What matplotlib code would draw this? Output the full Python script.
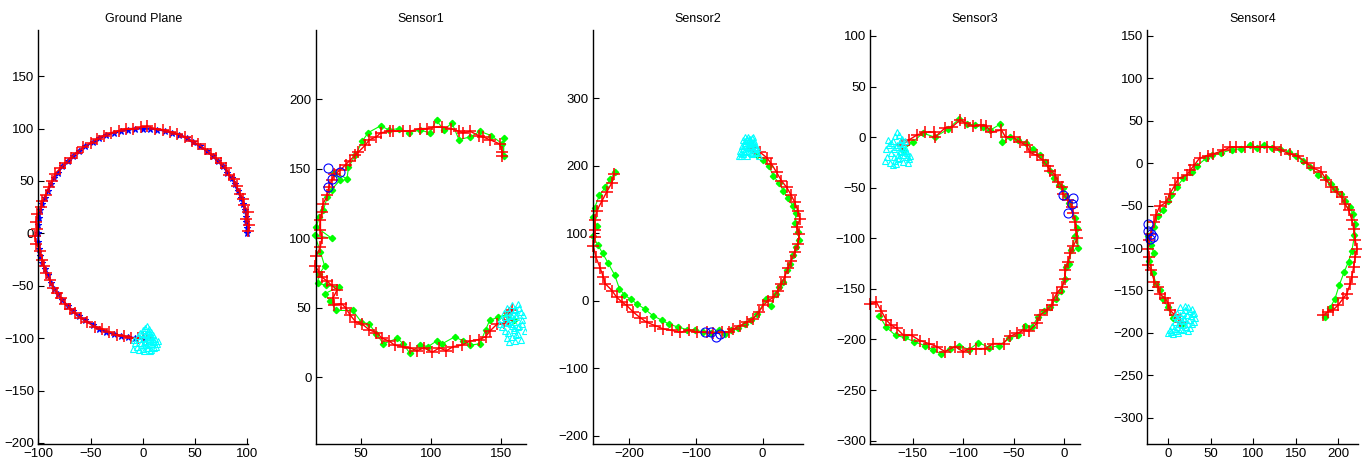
import numpy as np
import matplotlib
matplotlib.use("Agg")
import matplotlib.pyplot as plt

plt.rcParams['font.family'] = ['Liberation Sans', 'DejaVu Sans']

titles = ["Ground Plane", "Sensor1", "Sensor2", "Sensor3", "Sensor4"]

# ---- ground plane ----
gp_true_x = [100,100,99,99,98,96,94,91,88,85,81,77,72,67,61,55,48,42,35,28,21,14,7,0,-7,-14,-21,-28,-35,-42,
             -48,-55,-61,-67,-72,-77,-81,-85,-88,-91,-94,-96,-98,-99,-100,-100,-100,-99,-98,-96,-94,-91,-88,
             -85,-81,-77,-72,-67,-61,-55,-48,-42,-35,-28,-21,-14,-7,0]
gp_true_y = [0,5,11,16,22,28,34,40,47,53,58,64,69,74,79,83,87,91,94,96,98,99,100,100,100,99,98,96,94,91,
             87,83,79,74,69,64,58,53,47,40,34,28,22,15,8,0,-8,-15,-22,-28,-34,-40,-47,
             -53,-58,-64,-69,-74,-79,-83,-87,-91,-94,-96,-98,-99,-100,-100]
gp_est_x = [101,102,99,101,97,96,93,90,87,83,80,75,70,65,60,53,47,40,33,26,19,12,4,-2,-9,-16,-23,-30,-37,-44,
            -50,-57,-63,-69,-74,-79,-84,-87,-90,-93,-96,-97,-101,-102,-101,-103,-102,-98,-96,-95,-93,-89,-86,
            -82,-78,-74,-70,-65,-59,-53,-46,-39,-32,-25,-18,-11,-5,0,4]
gp_est_y = [2,8,14,20,27,33,38,45,52,56,62,67,72,76,80,85,88,92,95,97,99,100,102,101,100,100,98,96,93,90,
            86,82,77,72,67,62,57,50,44,37,31,25,18,11,4,-3,-10,-17,-25,-31,-38,-45,-52,
            -57,-62,-67,-72,-76,-81,-85,-89,-91,-94,-97,-98,-100,-100,-100,-100]
gp_cl_x = [-8,-5,-3,0,2,4,6,8,10,12,14,-6,-2,1,3,5,7,9,11,-4,0,4,8,2,6,3,5,-9,13,7,1,10,-1,9,5,3,
           -7,-3,11,15,4,8,0,6]
gp_cl_y = [-102,-98,-95,-92,-90,-88,-91,-94,-97,-101,-106,-108,-105,-100,-96,-93,-99,-103,-109,-111,-110,
           -107,-111,-104,-106,-97,-101,-110,-108,-112,-112,-101,-96,-106,-109,-103,
           -105,-101,-104,-103,-109,-98,-107,-95]

# ---- sensor 1 ----
s1_est_x = [151,151,149,142,137,134,128,123,120,114,108,102,97,92,85,80,73,71,64,61,56,53,48,46,42,39,35,31,
            29,27,26,23,22,21,21,22,21,18,17,20,22,26,29,33,30,31,36,39,42,46,51,56,61,65,70,74,80,85,90,
            95,101,106,111,116,122,128,134,139,142,147,152,155,156,158]
s1_est_y = [159,162,168,171,173,174,177,176,177,179,180,180,179,179,177,177,177,177,176,173,171,167,162,160,
            156,153,149,146,142,137,131,125,119,113,106,100,94,87,80,76,72,69,66,63,57,52,53,50,45,40,38,34,
            32,28,26,23,22,21,19,21,18,21,19,22,23,26,27,29,33,38,39,41,46,48]
s1_obs_x = [152,152,151,143,135,128,120,115,109,104,99,92,84,77,70,64,55,51,46,41,40,31,35,29,26,23,20,18,
            29,17,21,24,20,19,25,34,24,28,32,44,50,56,61,66,76,80,85,92,98,104,108,117,123,128,135,139,142,
            148,154,159]
s1_obs_y = [172,159,168,174,177,173,171,183,178,185,176,178,176,179,178,181,176,170,160,151,143,147,142,135,
            130,120,115,108,100,102,90,80,74,68,66,65,60,55,48,48,40,38,31,24,28,24,17,23,22,26,24,29,26,23,
            24,34,41,43,45,41]
s1_det_x = [26.2, 29, 35, 26.7]
s1_det_y = [150.3, 143, 148, 136.6]
s1_cl_x = [150,152,154,156,158,160,162,164,166,151,153,155,157,159,161,163,165,167,154,156,158,160,162,157,
           159,161,155,163,158,160,149,164,156,162,153,159,165,157,161,155]
s1_cl_y = [42,46,50,44,52,49,53,47,45,36,33,40,38,34,30,37,41,33,28,25,29,26,31,45,40,43,32,50,37,48,38,27,
           47,36,43,35,38,42,45,39]

# ---- sensor 2 ----
s2_est_x = [-223,-226,-234,-241,-249,-252,-252,-252,-254,-250,-244,-239,-236,-226,-219,-211,-204,-194,-184,
            -174,-161,-149,-136,-124,-111,-99,-84,-74,-61,-51,-44,-34,-24,-14,-6,1,8,16,23,28,33,38,43,48,
            53,55,51,56,53,48,43,36,28,21,13,6,-4,-12,-15]
s2_est_y = [188,175,161,148,133,119,104,94,81,64,49,35,25,15,5,-2,-7,-17,-25,-32,-37,-42,-44,-47,-44,-47,-47,
            -48,-47,-47,-42,-37,-32,-27,-17,-7,0,5,15,25,35,49,59,72,84,99,109,121,133,146,156,168,178,190,
            203,212,220,222,226]
s2_obs_x = [-221,-229,-236,-245,-252,-254,-249,-255,-247,-240,-232,-222,-215,-208,-198,-188,-176,-165,-151,
            -140,-127,-113,-101,-89,-77,-66,-56,-47,-37,-27,-18,-8,5,12,20,25,31,36,41,46,50,55,53,49,50,45,
            38,31,24,16,9,1,-8]
s2_obs_y = [190,180,168,156,138,124,110,96,82,70,56,38,18,9,2,-5,-13,-22,-29,-35,-39,-43,-44,-46,-48,-44,-50,
            -44,-40,-35,-29,-20,2,-8,10,20,28,45,55,67,80,90,102,115,130,141,152,163,175,185,200,208,216]
s2_det_x = [-86, -77, -70, -64]
s2_det_y = [-46, -46, -54, -49]
s2_cl_x = [-36,-33,-30,-28,-26,-24,-22,-20,-18,-16,-14,-12,-10,-8,-6,-34,-31,-27,-23,-19,-15,-11,-29,-25,
           -21,-17,-13,-32,-24,-18,-9,-26,-20,-14,-22,-16,-30,-12,-28,-19]
s2_cl_y = [214,219,225,231,236,240,243,238,235,241,233,228,224,219,214,222,229,234,228,237,242,221,217,222,
           226,229,236,215,215,219,226,243,232,224,220,217,238,231,220,240]

# ---- sensor 3 ----
s3_est_x = [-161,-154,-146,-138,-129,-128,-118,-111,-103,-98,-90,-82,-77,-72,-62,-58,-50,-44,-37,-34,-27,-21,
            -16,-14,-9,-6,-2,-1,4,8,9,11,12,13,9,6,4,1,1,-2,-7,-11,-12,-17,-24,-27,-35,-40,-47,-54,-60,-70,
            -78,-87,-93,-100,-108,-118,-126,-134,-143,-151,-159,-166,-171,-176,-181,-186,-192]
s3_est_y = [-8,-3,2,5,5,0,9,10,17,14,11,12,11,5,7,0,0,-5,-8,-15,-18,-23,-29,-33,-37,-44,-49,-56,-62,-69,-75,
            -84,-92,-100,-108,-115,-123,-131,-140,-148,-154,-161,-166,-171,-176,-184,-192,-191,-194,-197,-204,
            -204,-209,-209,-209,-212,-207,-212,-207,-204,-201,-196,-196,-189,-186,-181,-172,-163,-165]
s3_obs_x = [-160,-150,-140,-128,-115,-104,-96,-88,-80,-73,-63,-61,-54,-46,-38,-31,-24,-19,-14,-10,-5,-1,2,5,
            11,13,14,11,7,5,2,1,-3,-8,-14,-20,-26,-32,-39,-46,-55,-64,-74,-85,-94,-104,-113,-122,-130,-138,
            -149,-158,-167,-176,-183]
s3_obs_y = [-13,-5,4,0,8,18,13,12,10,7,13,-5,0,-3,-6,-12,-18,-25,-33,-40,-47,-50,-58,-65,-80,-90,-110,-98,
            -112,-125,-128,-140,-152,-160,-168,-172,-178,-188,-187,-196,-199,-206,-208,-203,-210,-206,-209,
            -214,-210,-206,-202,-198,-196,-188,-177]
s3_det_x = [-1, 9, 8, 4]
s3_det_y = [-57, -60, -66, -75]
s3_cl_x = [-176,-173,-170,-168,-166,-164,-162,-160,-158,-156,-154,-175,-171,-167,-163,-159,-155,-172,-168,
           -164,-160,-156,-170,-166,-162,-158,-174,-169,-165,-161,-157,-167,-163,-153,-177,-165,-171,-159,
           -169,-161]
s3_cl_y = [-12,-8,-4,1,5,2,-3,-7,-11,-16,-22,-20,-16,-10,-14,-18,-26,-26,-24,-21,-25,-20,-28,-8,-15,-4,-3,
           -12,-18,-11,-14,-27,-6,-19,-24,-22,-6,-13,-20,-2]

# ---- sensor 4 ----
s4_est_x = [14,8,2,0,-4,-10,-12,-16,-20,-24,-22,-24,-22,-20,-16,-14,-10,-2,2,8,12,22,26,31,37,47,53,65,73,80,
            90,100,108,116,124,133,143,153,163,171,180,186,192,198,204,208,212,216,218,220,222,220,218,216,
            214,210,206,200,194,188,182]
s4_est_y = [-187,-179,-173,-165,-159,-154,-146,-140,-126,-120,-110,-101,-91,-83,-69,-61,-51,-46,-36,-26,-18,
            -14,-8,-2,6,9,11,15,19,19,19,19,19,19,19,15,11,8,0,-6,-10,-20,-28,-34,-40,-48,-55,-67,-77,-91,
            -101,-110,-122,-134,-142,-154,-159,-167,-173,-175,-179]
s4_obs_x = [16,6,0,-6,-10,-14,-18,-22,-17,-20,-24,-16,-12,-6,0,4,10,18,28,34,45,52,62,75,86,96,104,113,122,
            131,142,150,158,167,176,185,191,196,203,208,214,217,220,219,216,212,207,201,196,190,184]
s4_obs_y = [-190,-183,-170,-160,-150,-142,-130,-115,-106,-96,-86,-75,-62,-55,-44,-38,-28,-18,-10,-3,6,10,
            12,16,17,21,18,22,18,17,13,9,3,-4,-14,-18,-24,-30,-36,-44,-52,-60,-72,-85,-103,-116,-128,-144,
            -160,-171,-181]
s4_det_x = [-23, -20, -18, -21, -23]
s4_det_y = [-72, -83, -87, -89, -80]
s4_cl_x = [2,5,8,11,14,17,20,23,26,29,32,4,7,10,13,16,19,22,25,28,31,6,9,12,15,18,21,24,27,30,0,11,20,26,
           14,23,17,8,28,19]
s4_cl_y = [-197,-192,-187,-183,-179,-176,-173,-170,-174,-178,-183,-199,-196,-193,-190,-186,-182,-179,-185,
           -190,-187,-201,-198,-200,-195,-197,-193,-189,-180,-176,-200,-176,-168,-194,-170,-198,-191,-180,
           -172,-185]

RED = '#ff0000'
GREEN = '#00ff00'
BLUE = '#0000ff'
CYAN = '#00ffff'

# axes boxes in pixels: left, right, plus limits and ticks
panels = [
    dict(px=(38.3, 248.3), xlim=(-100, 101), ylim=(-201, 194),
         xt=[-100, -50, 0, 50, 100], yt=range(-200, 151, 50)),
    dict(px=(315.7, 526), xlim=(17.6, 167.9), ylim=(-48.2, 250),
         xt=[50, 100, 150], yt=range(0, 201, 50)),
    dict(px=(592.7, 803.3), xlim=(-255, 61), ylim=(-212.3, 401),
         xt=[-200, -100, 0], yt=range(-200, 301, 100)),
    dict(px=(870, 1080), xlim=(-192.3, 15.8), ylim=(-303.3, 105.9),
         xt=[-150, -100, -50, 0], yt=range(-300, 101, 50)),
    dict(px=(1147.3, 1358.3), xlim=(-24.4, 223.5), ylim=(-331, 157),
         xt=[0, 50, 100, 150, 200], yt=range(-300, 151, 50)),
]

W, H = 1362, 468
fig = plt.figure(figsize=(W / 100, H / 100), dpi=100)

sensors = [
    (s1_est_x, s1_est_y, s1_obs_x, s1_obs_y, s1_det_x, s1_det_y, s1_cl_x, s1_cl_y),
    (s2_est_x, s2_est_y, s2_obs_x, s2_obs_y, s2_det_x, s2_det_y, s2_cl_x, s2_cl_y),
    (s3_est_x, s3_est_y, s3_obs_x, s3_obs_y, s3_det_x, s3_det_y, s3_cl_x, s3_cl_y),
    (s4_est_x, s4_est_y, s4_obs_x, s4_obs_y, s4_det_x, s4_det_y, s4_cl_x, s4_cl_y),
]

for i, p in enumerate(panels):
    l, r = p['px']
    ax = fig.add_axes([l / W, (H - 444) / H, (r - l) / W, 414 / H])
    if i == 0:
        ax.plot(gp_true_x, gp_true_y, '-', color=BLUE, lw=1.5, marker='*', ms=4.5, mew=0.8, clip_on=False)
        ax.plot(gp_est_x, gp_est_y, '-', color=RED, lw=1.0, marker='+', ms=9, mew=1.1, clip_on=False)
        ax.plot(gp_cl_x, gp_cl_y, '^', color=CYAN, mfc='none', ms=5, mew=0.8, ls='none')
    else:
        ex, ey, ox, oy, dx, dy, cx, cy = sensors[i - 1]
        ax.plot(ox, oy, '-', color=GREEN, lw=0.8, marker='D', ms=3.2, mfc=GREEN, mec=GREEN, clip_on=False)
        ax.plot(ex, ey, '-', color=RED, lw=1.0, marker='+', ms=8.5, mew=1.1, clip_on=False)
        ax.plot(dx, dy, 'o', color=BLUE, mfc='none', ms=6.5, mew=0.8, ls='none', clip_on=False)
        ax.plot(cx, cy, '^', color=CYAN, mfc='none', ms=5, mew=0.8, ls='none')
    ax.set_xlim(*p['xlim'])
    ax.set_ylim(*p['ylim'])
    ax.set_xticks(p['xt'])
    ax.set_yticks(list(p['yt']))
    for s in ('top', 'right'):
        ax.spines[s].set_visible(False)
    ax.spines['left'].set_linewidth(1.0)
    ax.spines['bottom'].set_linewidth(1.0)
    ax.tick_params(direction='in', length=4, width=0.8, labelsize=9.5, pad=3)
    ax.set_title(titles[i], fontsize=9, pad=6)

fig.savefig("out.png", dpi=100)
